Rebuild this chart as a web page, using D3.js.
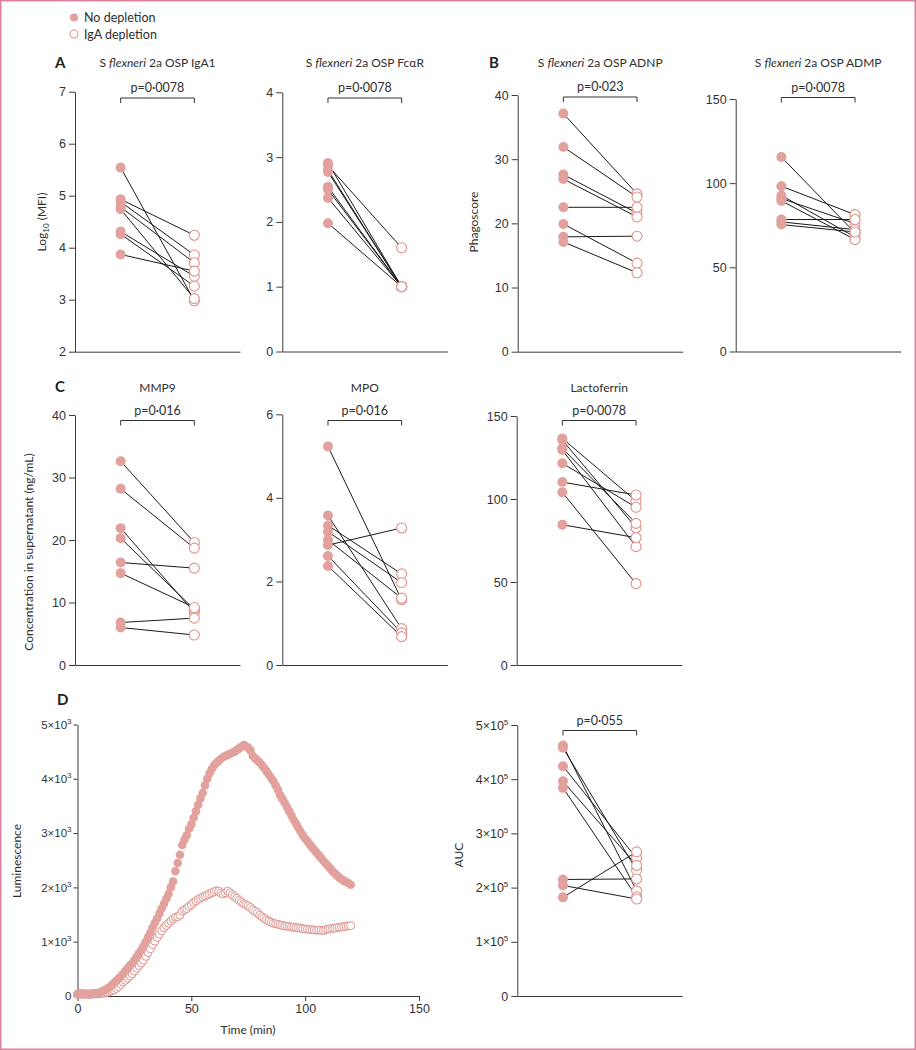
<!DOCTYPE html>
<html>
<head>
<meta charset="utf-8">
<script src="https://cdn.jsdelivr.net/npm/d3@7"></script>
<style>
  body { margin: 0; background: #fff; }
  svg { display: block; font-family: Lato, 'Open Sans', sans-serif; }
  .tick text { fill: #333; font-size: 12.5px; }
  .domain, .tick line { stroke: #3a3a3a; }
  .lbl { fill: #2e2e2e; font-size: 12px; }
</style>
</head>
<body>
<div id="chart"></div>
<script>
const groups = ['No depletion', 'IgA depletion'];
const pLabels = ['p=0·0078', 'p=0·0078', 'p=0·023', 'p=0·0078', 'p=0·016', 'p=0·016', 'p=0·0078', 'p=0·055'];

// paired values, one entry per donor
const iga1NoDep  = [5.54, 4.93, 4.88, 4.78, 4.74, 4.31, 4.26, 3.87];
const iga1IgaDep = [2.98, 4.24, 3.86, 3.71, 3.02, 3.45, 3.26, 3.55];
const fcarNoDep  = [2.91, 2.87, 2.80, 2.77, 2.54, 2.50, 2.37, 1.98];
const fcarIgaDep = [1.00, 1.60, 1.00, 1.00, 1.00, 1.00, 1.00, 1.00];
const adnpNoDep  = [37.1, 31.9, 27.6, 26.9, 22.5, 19.9, 17.9, 17.1];
const adnpIgaDep = [24.6, 24.1, 21.6, 21.0, 22.5, 13.8, 18.0, 12.3];
const admpNoDep  = [115.5, 98.2, 92.7, 90.9, 89.5, 78.4, 77.0, 75.4];
const admpIgaDep = [70.5, 81.3, 68.0, 76.0, 66.5, 78.4, 72.4, 71.0];
const mmp9NoDep  = [32.6, 28.2, 21.9, 20.3, 16.4, 14.7, 6.8, 6.0];
const mmp9IgaDep = [19.6, 18.7, 8.4, 8.9, 15.5, 9.2, 7.5, 4.8];
const mpoNoDep   = [5.23, 3.58, 3.34, 3.19, 2.99, 2.87, 2.61, 2.37];
const mpoIgaDep  = [1.56, 0.87, 2.18, 1.97, 1.60, 3.28, 0.77, 0.68];
const lactoNoDep  = [136.5, 135.5, 130.5, 129.5, 121.5, 110.2, 104, 84.5];
const lactoIgaDep = [98.8, 82.7, 85.3, 71.3, 95, 102.4, 49, 76.7];
const aucNoDep  = [462000, 458000, 424000, 396000, 384000, 215000, 204000, 182000];
const aucIgaDep = [194000, 232000, 254000, 241000, 183000, 216000, 179000, 266000];

// tick values
const iga1Ticks = [2, 3, 4, 5, 6, 7];
const fcarTicks = [0, 1, 2, 3, 4];
const adnpTicks = [0, 10, 20, 30, 40];
const admpTicks = [0, 50, 100, 150];
const mmp9Ticks = [0, 10, 20, 30, 40];
const mpoTicks = [0, 2, 4, 6];
const lactoTicks = [0, 50, 100, 150];
const aucTicks = [0, 100000, 200000, 300000, 400000, 500000];
const lumYTicks = [0, 1000, 2000, 3000, 4000, 5000];
const lumXTicks = [0, 50, 100, 150];

// luminescence kinetics
const lumTime = [0,1,2,3,4,5,6,7,8,9,10,11,12,13,14,15,16,17,18,19,20,21,22,23,24,25,26,27,28,29,
  30,31,32,33,34,35,36,37,38,39,40,41,42,43,44,45,46,47,48,49,50,51,52,53,54,55,56,57,58,59,
  60,61,62,63,64,65,66,67,68,69,70,71,72,73,74,75,76,77,78,79,80,81,82,83,84,85,86,87,88,89,
  90,91,92,93,94,95,96,97,98,99,100,101,102,103,104,105,106,107,108,109,110,111,112,113,114,115,116,117,118,119,120];
const lumNoDep = [40,45,50,45,40,40,45,50,50,55,
  70,90,110,130,160,200,240,280,320,360,
  410,460,510,560,600,660,720,790,850,920,
  1000,1080,1170,1260,1350,1430,1520,1610,1700,1790,
  1880,2000,2110,2300,2450,2600,2780,2880,2960,3080,
  3160,3280,3400,3520,3640,3740,3880,4000,4100,4180,
  4250,4290,4330,4370,4400,4420,4440,4460,4480,4500,
  4530,4560,4590,4620,4600,4570,4520,4420,4380,4340,
  4300,4250,4200,4140,4080,4020,3960,3880,3800,3700,
  3630,3560,3480,3400,3320,3240,3170,3100,3030,2960,
  2900,2850,2790,2740,2690,2640,2590,2540,2490,2440,
  2400,2350,2300,2260,2220,2180,2150,2120,2100,2080,2050];
const lumIgaDep = [30,35,30,30,35,30,30,35,40,40,
  45,50,60,70,80,95,110,140,170,215,
  260,290,330,370,410,460,510,560,610,660,
  730,800,870,950,1010,1080,1140,1200,1260,1300,
  1340,1380,1420,1450,1460,1490,1560,1590,1610,1650,
  1680,1720,1750,1780,1800,1820,1840,1860,1880,1900,
  1920,1940,1930,1900,1880,1900,1930,1900,1860,1830,
  1800,1760,1730,1700,1680,1660,1630,1590,1560,1530,
  1490,1460,1430,1400,1380,1360,1340,1330,1320,1310,
  1300,1290,1285,1280,1270,1265,1260,1255,1250,1240,
  1235,1230,1225,1220,1215,1210,1215,1210,1205,1220,
  1230,1240,1245,1250,1260,1265,1270,1280,1285,1290,1295];

const W = 916, H = 1050;
const fillCol = '#e2a19c';
const strokeCol = '#e0928d';

const svg = d3.select('#chart').append('svg').attr('width', W).attr('height', H);

svg.append('rect').attr('x', 0.75).attr('y', 0.75).attr('width', W - 1.5).attr('height', H - 1.5)
  .attr('fill', 'none').attr('stroke', '#d9819f').attr('stroke-width', 1.5);

// legend
const legend = svg.append('g');
legend.append('circle').attr('cx', 74).attr('cy', 17.5).attr('r', 4).attr('fill', fillCol);
legend.append('circle').attr('cx', 74).attr('cy', 34).attr('r', 4).attr('fill', '#fff')
  .attr('stroke', strokeCol).attr('stroke-width', 1.1);
legend.append('text').attr('class', 'lbl').attr('x', 84).attr('y', 22).style('font-size', '12.5px').text(groups[0]);
legend.append('text').attr('class', 'lbl').attr('x', 84).attr('y', 38.5).style('font-size', '12.5px').text(groups[1]);

function supFormat(exp) {
  return function (sel) {
    sel.selectAll('.tick text').each(function (d) {
      const t = d3.select(this).text('');
      if (d === 0) { t.text('0'); return; }
      const m = Math.round(d / Math.pow(10, exp));
      t.append('tspan').text(m + '×10');
      t.append('tspan').attr('dy', -5).style('font-size', '8px').text(exp);
    });
  };
}

function title(x, y, parts) {
  const t = svg.append('text').attr('class', 'lbl').attr('x', x).attr('y', y)
    .attr('text-anchor', 'middle').style('font-size', '12px');
  parts.forEach(p => t.append('tspan').style('font-style', p[1] ? 'italic' : 'normal').text(p[0]));
}

function panelLetter(x, y, s) {
  svg.append('text').attr('x', x).attr('y', y).style('font-size', '15px')
    .style('font-weight', 'bold').attr('fill', '#222').text(s);
}

function yLabel(x, y, parts) {
  const t = svg.append('text').attr('class', 'lbl')
    .attr('transform', `translate(${x},${y}) rotate(-90)`).attr('text-anchor', 'middle');
  parts.forEach(p => {
    const s = t.append('tspan').text(p[0]);
    if (p[1] === 'sub') s.attr('dy', 3).style('font-size', '8px');
    if (p[1] === 'back') s.attr('dy', -3);
  });
}

function pairedPanel(o) {
  const g = svg.append('g').attr('transform', `translate(${o.x},0)`);
  const x = d3.scalePoint().domain(groups).range([0, 165]).padding(0.62);
  const y = d3.scaleLinear().domain(o.domain).range([o.bottom, o.top]);

  const ya = g.append('g').call(d3.axisLeft(y).tickValues(o.ticks).tickFormat(d3.format('~g'))
    .tickSize(6).tickPadding(3).tickSizeOuter(0));
  if (o.exp) ya.call(supFormat(o.exp));
  g.append('g').attr('transform', `translate(0,${o.bottom})`)
    .call(d3.axisBottom(x).tickValues([]).tickSizeOuter(0));

  const pairs = o.before.map((v, i) => [v, o.after[i]]);
  g.selectAll('line.pair').data(pairs).enter().append('line')
    .attr('class', 'pair')
    .attr('x1', x(groups[0])).attr('x2', x(groups[1]))
    .attr('y1', d => y(d[0])).attr('y2', d => y(d[1]))
    .attr('stroke', '#1a1a1a').attr('stroke-width', 1);

  g.selectAll('circle.pre').data(o.before).enter().append('circle')
    .attr('class', 'pre').attr('cx', x(groups[0])).attr('cy', d => y(d)).attr('r', 5)
    .attr('fill', fillCol);
  g.selectAll('circle.post').data(o.after).enter().append('circle')
    .attr('class', 'post').attr('cx', x(groups[1])).attr('cy', d => y(d)).attr('r', 5)
    .attr('fill', '#fff').attr('stroke', strokeCol).attr('stroke-width', 1.1);

  // significance bracket
  const x1 = x(groups[0]), x2 = x(groups[1]), by = o.bracketY;
  g.append('path').attr('d', `M${x1},${by + 5}V${by}H${x2}V${by + 5}`)
    .attr('fill', 'none').attr('stroke', '#333').attr('stroke-width', 1);
  g.append('text').attr('class', 'lbl').attr('x', (x1 + x2) / 2).attr('y', by - 6)
    .attr('text-anchor', 'middle').style('font-size', '12.5px').text(o.p);

  title(o.x + (x1 + x2) / 2, o.titleY, o.title);
}

// Row A/B
panelLetter(55, 68, 'A');
pairedPanel({ x: 75, top: 91.7, bottom: 351.7, domain: [2, 7], ticks: iga1Ticks,
  before: iga1NoDep, after: iga1IgaDep, bracketY: 98, p: pLabels[0], titleY: 67,
  title: [['S '], ['flexneri', true], [' 2a OSP IgA1']] });
yLabel(46, 222, [['Log'], ['10', 'sub'], [' (MFI)', 'back']]);

pairedPanel({ x: 282.3, top: 92.3, bottom: 351.5, domain: [0, 4], ticks: fcarTicks,
  before: fcarNoDep, after: fcarIgaDep, bracketY: 98, p: pLabels[1], titleY: 67,
  title: [['S '], ['flexneri', true], [' 2a OSP FcαR']] });

panelLetter(489, 68, 'B');
pairedPanel({ x: 517.7, top: 95, bottom: 351.7, domain: [0, 40], ticks: adnpTicks,
  before: adnpNoDep, after: adnpIgaDep, bracketY: 97, p: pLabels[2], titleY: 67,
  title: [['S '], ['flexneri', true], [' 2a OSP ADNP']] });
yLabel(478, 222, [['Phagoscore']]);

pairedPanel({ x: 735.7, top: 99, bottom: 351.5, domain: [0, 150], ticks: admpTicks,
  before: admpNoDep, after: admpIgaDep, bracketY: 97.5, p: pLabels[3], titleY: 67,
  title: [['S '], ['flexneri', true], [' 2a OSP ADMP']] });

// Row C
panelLetter(55, 392, 'C');
pairedPanel({ x: 75, top: 415, bottom: 665, domain: [0, 40], ticks: mmp9Ticks,
  before: mmp9NoDep, after: mmp9IgaDep, bracketY: 420.5, p: pLabels[4], titleY: 392,
  title: [['MMP9']] });
yLabel(33, 552, [['Concentration in supernatant (ng/mL)']]);

pairedPanel({ x: 282.3, top: 414.3, bottom: 665, domain: [0, 6], ticks: mpoTicks,
  before: mpoNoDep, after: mpoIgaDep, bracketY: 420.5, p: pLabels[5], titleY: 392,
  title: [['MPO']] });

pairedPanel({ x: 516.7, top: 416, bottom: 665, domain: [0, 150], ticks: lactoTicks,
  before: lactoNoDep, after: lactoIgaDep, bracketY: 420.5, p: pLabels[6], titleY: 392,
  title: [['Lactoferrin']] });

// Row D: kinetics
panelLetter(57, 705, 'D');
const lx = d3.scaleLinear().domain([0, 150]).range([77.5, 419]);
const ly = d3.scaleLinear().domain([0, 5000]).range([996, 724.5]);
const lumG = svg.append('g');
lumG.append('g').attr('transform', 'translate(77.5,0)')
  .call(d3.axisLeft(ly).tickValues(lumYTicks).tickSize(4).tickPadding(2).tickSizeOuter(0))
  .call(supFormat(3))
  .selectAll('.tick text').style('font-size', '11.5px');
lumG.append('g').attr('transform', 'translate(0,996)')
  .call(d3.axisBottom(lx).tickValues(lumXTicks).tickSize(5).tickPadding(3).tickSizeOuter(0));
svg.append('text').attr('class', 'lbl').attr('x', 248).attr('y', 1034)
  .attr('text-anchor', 'middle').text('Time (min)');
yLabel(21, 861, [['Luminescence']]);

lumG.selectAll('circle.iga').data(lumTime).enter().append('circle')
  .attr('class', 'iga').attr('cx', d => lx(d)).attr('cy', (d, i) => ly(lumIgaDep[i])).attr('r', 4)
  .attr('fill', '#fff').attr('stroke', strokeCol).attr('stroke-width', 1);
lumG.selectAll('circle.nod').data(lumTime).enter().append('circle')
  .attr('class', 'nod').attr('cx', d => lx(d)).attr('cy', (d, i) => ly(lumNoDep[i])).attr('r', 4.3)
  .attr('fill', fillCol);

// AUC
pairedPanel({ x: 517.3, top: 725, bottom: 996, domain: [0, 500000], ticks: aucTicks, exp: 5,
  before: aucNoDep, after: aucIgaDep, bracketY: 730.5, p: pLabels[7], titleY: 700,
  title: [['']] });
yLabel(463, 855, [['AUC']]);
</script>
</body>
</html>
